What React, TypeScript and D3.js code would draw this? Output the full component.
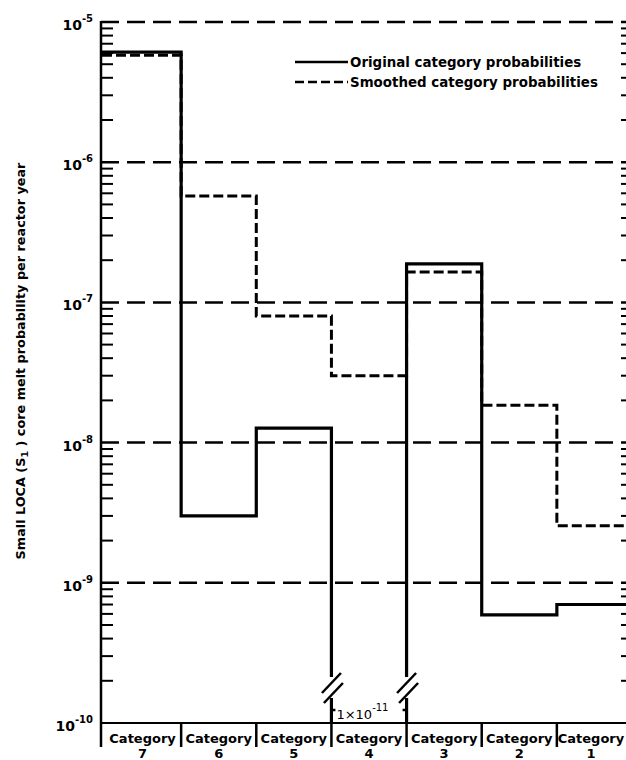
import React from "react";
import * as d3 from "d3";

const categories = ["7", "6", "5", "4", "3", "2", "1"];
const originalProb = [6.1e-6, 3.0e-9, 1.27e-8, 1e-11, 1.88e-7, 5.9e-10, 7.0e-10];
const smoothedProb = [5.8e-6, 5.75e-7, 8.0e-8, 3.0e-8, 1.65e-7, 1.85e-8, 2.55e-9];
const decadeExponents = [-5, -6, -7, -8, -9, -10];
const gridExponents = [-5, -6, -7, -8, -9];
const legendLabels = ["Original category probabilities", "Smoothed category probabilities"];
const breakLabel = { base: "1\u00d710", exp: "-11" };

const W = 626;
const H = 760;
const axisX = 101;
const rightX = 626;
const FONT = "'DejaVu Sans', 'Liberation Sans', Arial, sans-serif";

export default function App() {
  const y = d3.scaleLog().domain([1e-10, 1e-5]).range([723, 22]);
  const x = d3.scaleLinear().domain([0, categories.length]).range([106, 632]);
  const baseY = y(1e-10);
  const minV = 1e-10;
  const breakTop = baseY - 46;
  const breakBottom = baseY - 25;

  const line = d3.line<[number, number]>();
  const xs = (i: number) => (i === 0 ? axisX + 1 : x(i));

  // smoothed step path
  const smPts: [number, number][] = [];
  smoothedProb.forEach((v, i) => {
    smPts.push([xs(i), y(v)]);
    smPts.push([x(i + 1), y(v)]);
  });
  const smPath = line(smPts) || "";

  // original step path with axis break for off-scale values
  const segs: [number, number][][] = [];
  const breaks: number[] = [];
  let cur: [number, number][] = [];
  originalProb.forEach((v, i) => {
    const inRange = v >= minV;
    const prev = i > 0 ? originalProb[i - 1] : null;
    const prevIn = prev === null ? true : prev >= minV;
    if (inRange) {
      if (!prevIn) {
        segs.push([[x(i), baseY], [x(i), breakBottom]]);
        breaks.push(x(i));
        cur = [[x(i), breakTop]];
      }
      cur.push([xs(i), y(v)]);
      cur.push([x(i + 1), y(v)]);
    } else {
      if (prevIn && cur.length) {
        cur.push([x(i), breakTop]);
        segs.push(cur);
        segs.push([[x(i), breakBottom], [x(i), baseY]]);
        breaks.push(x(i));
        cur = [];
      }
    }
  });
  if (cur.length) segs.push(cur);

  const minorTicks: number[] = [];
  for (let e = -10; e < -5; e++) {
    for (let k = 2; k <= 9; k++) minorTicks.push(k * Math.pow(10, e));
  }

  const catLabelHalf = 34;

  return (
    <svg
      width={W}
      height={H}
      style={{ position: "absolute", left: 0, top: 0, background: "#fff" }}
      fontFamily={FONT}
    >
      <rect x={0} y={0} width={W} height={H} fill="#fff" />
      {gridExponents.map((e) => (
        <line
          key={"g" + e}
          x1={axisX}
          x2={rightX}
          y1={y(Math.pow(10, e))}
          y2={y(Math.pow(10, e))}
          stroke="#000"
          strokeWidth={2.5}
          strokeDasharray="18,8"
        />
      ))}
      <line x1={axisX} x2={axisX} y1={y(1e-5) - 1} y2={baseY + 24} stroke="#000" strokeWidth={2.5} />
      {minorTicks.map((v, i) => (
        <line key={"lm" + i} x1={axisX} x2={axisX + 12} y1={y(v)} y2={y(v)} stroke="#000" strokeWidth={2} />
      ))}
      {minorTicks.map((v, i) => (
        <line key={"rm" + i} x1={rightX - 5} x2={rightX} y1={y(v)} y2={y(v)} stroke="#000" strokeWidth={2} />
      ))}
      <line x1={axisX} x2={rightX} y1={baseY} y2={baseY} stroke="#000" strokeWidth={2} />
      {d3.range(1, categories.length).map((i) => (
        <line key={"s" + i} x1={x(i)} x2={x(i)} y1={baseY} y2={baseY + 24} stroke="#000" strokeWidth={2.5} />
      ))}
      {decadeExponents.map((e) => (
        <text
          key={"t" + e}
          x={93}
          y={y(Math.pow(10, e)) + 8}
          textAnchor="end"
          fontWeight="bold"
          fontSize={14}
          fill="#000"
        >
          10
          <tspan dy={-8} fontSize={10}>
            {String(e)}
          </tspan>
        </text>
      ))}
      {categories.map((c, i) => {
        let cx = (x(i) + x(i + 1)) / 2 + (i === 0 ? -1 : 0);
        cx = Math.min(cx, W - catLabelHalf - 1);
        return (
          <g key={"c" + c}>
            <text x={cx} y={743} textAnchor="middle" fontWeight="bold" fontSize={13} fill="#000">
              Category
            </text>
            <text x={cx} y={758} textAnchor="middle" fontWeight="bold" fontSize={13} fill="#000">
              {c}
            </text>
          </g>
        );
      })}
      <text
        transform={`translate(25, 361) rotate(-90)`}
        textAnchor="middle"
        fontWeight="bold"
        fontSize={12.8}
        fill="#000"
      >
        Small LOCA (S
        <tspan dy={3} fontSize={9.5}>
          1
        </tspan>
        <tspan dy={-3}> ) core melt probability per reactor year</tspan>
      </text>
      <path d={smPath} fill="none" stroke="#000" strokeWidth={3} strokeDasharray="10,4" />
      {segs.map((s, i) => (
        <path key={"o" + i} d={line(s) || ""} fill="none" stroke="#000" strokeWidth={3.2} />
      ))}
      {breaks.map((bx, i) => (
        <g key={"b" + i} stroke="#000" strokeWidth={2.5}>
          <line x1={bx - 9.5} y1={breakTop + 16} x2={bx + 9.5} y2={breakTop - 4} />
          <line x1={bx - 7.5} y1={breakTop + 26} x2={bx + 11.5} y2={breakTop + 6} />
          <line x1={bx} x2={bx + (i === 0 ? 4 : -4)} y1={baseY - 13} y2={baseY - 13} />
        </g>
      ))}
      {breaks.length > 0 && (
        <text x={breaks[0] + 5} y={baseY - 4} fontSize={13} fill="#000">
          {breakLabel.base}
          <tspan dy={-8} fontSize={10}>
            {breakLabel.exp}
          </tspan>
        </text>
      )}
      <line x1={295} x2={348} y1={62} y2={62} stroke="#000" strokeWidth={2.5} />
      <text x={350} y={67} fontWeight="bold" fontSize={13.4} fill="#000">
        {legendLabels[0]}
      </text>
      <line x1={295} x2={348} y1={82} y2={82} stroke="#000" strokeWidth={2.5} strokeDasharray="9,4" />
      <text x={350} y={87} fontWeight="bold" fontSize={13.4} fill="#000">
        {legendLabels[1]}
      </text>
    </svg>
  );
}
